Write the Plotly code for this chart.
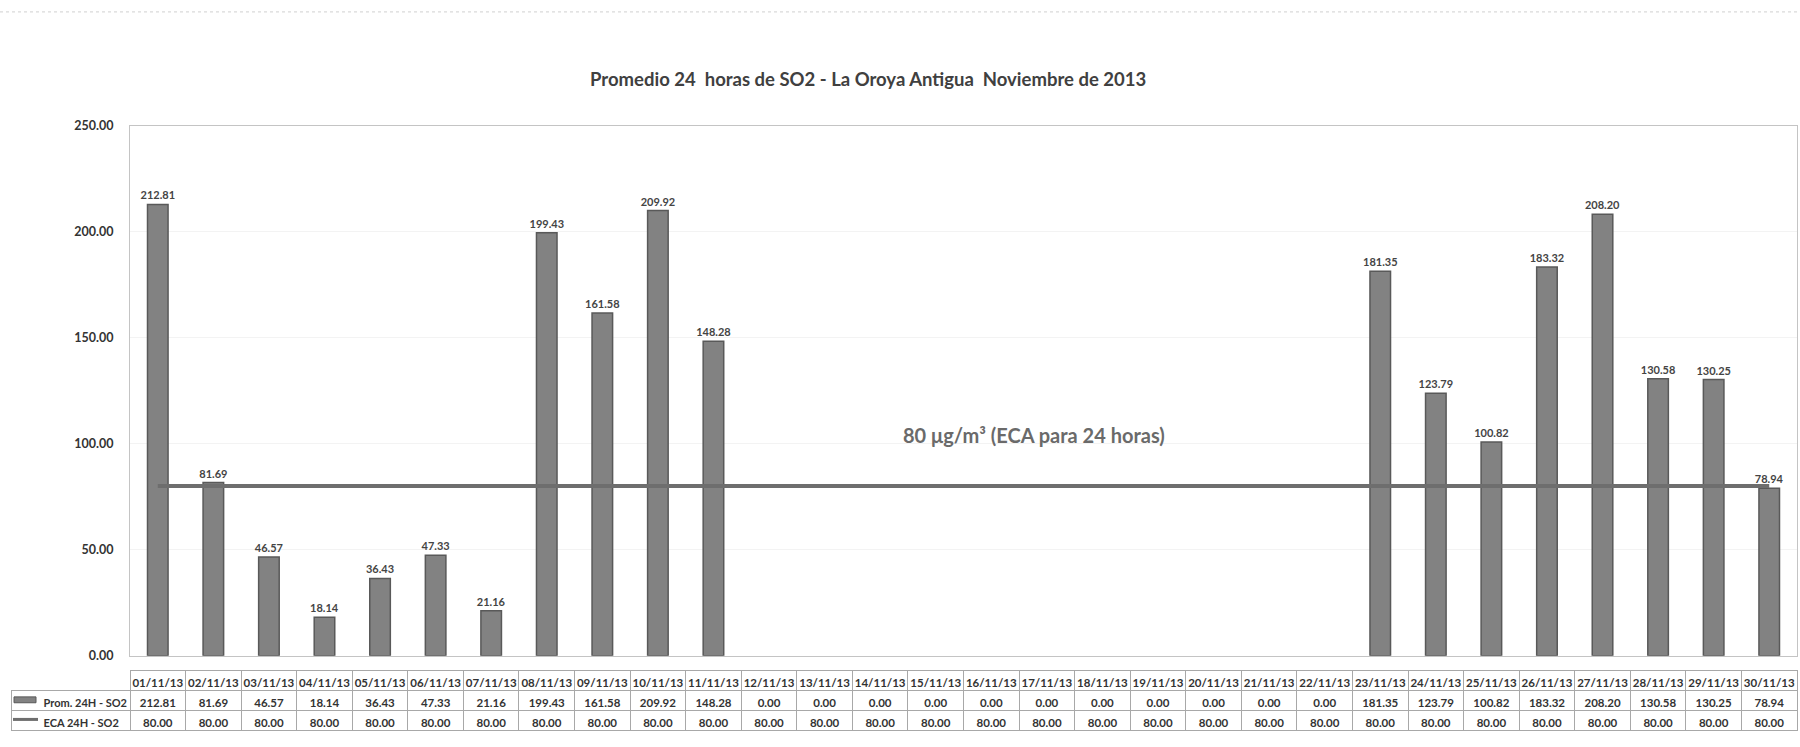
import plotly.graph_objects as go

# ---- data ----
dates = ["01/11/13", "02/11/13", "03/11/13", "04/11/13", "05/11/13", "06/11/13",
         "07/11/13", "08/11/13", "09/11/13", "10/11/13", "11/11/13", "12/11/13",
         "13/11/13", "14/11/13", "15/11/13", "16/11/13", "17/11/13", "18/11/13",
         "19/11/13", "20/11/13", "21/11/13", "22/11/13", "23/11/13", "24/11/13",
         "25/11/13", "26/11/13", "27/11/13", "28/11/13", "29/11/13", "30/11/13"]
prom_so2 = [212.81, 81.69, 46.57, 18.14, 36.43, 47.33, 21.16, 199.43, 161.58, 209.92,
            148.28, 0.00, 0.00, 0.00, 0.00, 0.00, 0.00, 0.00, 0.00, 0.00,
            0.00, 0.00, 181.35, 123.79, 100.82, 183.32, 208.20, 130.58, 130.25, 78.94]
eca_so2 = [80.00, 80.00, 80.00, 80.00, 80.00, 80.00, 80.00, 80.00, 80.00, 80.00,
           80.00, 80.00, 80.00, 80.00, 80.00, 80.00, 80.00, 80.00, 80.00, 80.00,
           80.00, 80.00, 80.00, 80.00, 80.00, 80.00, 80.00, 80.00, 80.00, 80.00]
series_names = ["Prom. 24H - SO2", "ECA 24H - SO2"]
y_ticks = [0, 50, 100, 150, 200, 250]
title_text = "Promedio 24  horas de SO2 - La Oroya Antigua  Noviembre de 2013"
eca_note = "80 μg/m³ (ECA para 24 horas)"

W, H = 1800, 747
FONT = "Lato"
TXT = "#333333"
BAR_COLOR = "#828282"
BAR_EDGE = "#595959"
LINE_COLOR = "#6e6e6e"

def px_x(p):
    return p / W

def px_y(p):
    return (H - p) / H

plot_l, plot_r, plot_t, plot_b = 130, 1797, 120, 661
tab_l, tab_t, row_h = 11, 676, 20

bar_labels = [f"{v:.2f}" if v > 0 else "" for v in prom_so2]
bar_edges = [1.5 if v > 0 else 0 for v in prom_so2]

fig = go.Figure()
fig.add_trace(go.Bar(
    x=dates, y=prom_so2, name=series_names[0],
    text=bar_labels, textposition="outside", cliponaxis=False,
    constraintext="none",
    textfont=dict(family=FONT, size=11, color="#444444", weight="bold"),
    marker=dict(color=BAR_COLOR, line=dict(color=BAR_EDGE, width=bar_edges)),
    width=0.37,
))
fig.add_trace(go.Scatter(
    x=dates, y=eca_so2, name=series_names[1], mode="lines",
    line=dict(color=LINE_COLOR, width=4),
))

# row labels: non-breaking spaces so the table never wraps them; room left for keys
row_labels = ["\u2003\u2003\u00a0\u00a0\u00a0" + s.replace(" ", "\u00a0") for s in series_names]
cell_vals = [row_labels] + [[f"{p:.2f}", f"{e:.2f}"] for p, e in zip(prom_so2, eca_so2)]
header_vals = [""] + dates
ncol = len(dates)
col_w = (plot_r - plot_l) / ncol

fig.add_trace(go.Table(
    domain=dict(x=[px_x(tab_l), px_x(plot_r)], y=[0.0, px_y(tab_t)]),
    columnwidth=[plot_l - tab_l] + [col_w] * ncol,
    header=dict(values=header_vals, height=row_h,
                fill_color="white",
                line=dict(color=["rgba(0,0,0,0)"] + ["#a8a8a8"] * ncol, width=1),
                font=dict(family=FONT, size=11.5, color=TXT, weight="bold"), align="center"),
    cells=dict(values=cell_vals, height=row_h,
               fill_color="white",
               line=dict(color="#a8a8a8", width=1),
               font=dict(family=FONT, size=[11] + [11.5] * ncol, color=TXT, weight="bold"),
               align=["left"] + ["center"] * ncol),
))

# legend keys drawn in the label column of the data table
r2c = tab_t + row_h * 1.5
r3c = tab_t + row_h * 2.5
key_shapes = [
    dict(type="rect", xref="paper", yref="paper",
         x0=px_x(tab_l + 3), x1=px_x(tab_l + 25), y0=px_y(r2c + 3), y1=px_y(r2c - 3),
         fillcolor=BAR_COLOR, line=dict(color=BAR_EDGE, width=1)),
    dict(type="line", xref="paper", yref="paper",
         x0=px_x(tab_l + 2), x1=px_x(tab_l + 27), y0=px_y(r3c), y1=px_y(r3c),
         line=dict(color=LINE_COLOR, width=3)),
]

fig.update_layout(
    width=W, height=H,
    margin=dict(l=0, r=0, t=0, b=0),
    paper_bgcolor="white", plot_bgcolor="white",
    showlegend=False,
    xaxis=dict(domain=[px_x(plot_l), px_x(plot_r)], type="category",
               range=[-0.5, ncol - 0.5], showticklabels=False, ticks="",
               showline=True, linecolor="#c4c4c4", linewidth=1, mirror=True,
               showgrid=False, zeroline=False),
    yaxis=dict(domain=[px_y(plot_b), px_y(plot_t)], range=[0, 250],
               tickvals=y_ticks, tickformat=".2f", ticks="",
               ticklabelstandoff=13,
               tickfont=dict(family=FONT, size=12.5, color="#333333", weight="bold"),
               showline=True, linecolor="#c4c4c4", linewidth=1, mirror=True,
               showgrid=True, gridcolor="#f3f3f3", zeroline=False),
    annotations=[
        dict(text="<b>" + title_text + "</b>", xref="paper", yref="paper",
             x=px_x(868), y=px_y(72), xanchor="center", yanchor="middle",
             showarrow=False,
             font=dict(family=FONT, size=18.5, color="#404040")),
        dict(text="<b>" + eca_note + "</b>", xref="paper", yref="paper",
             x=px_x(1034), y=px_y(436), xanchor="center", yanchor="middle",
             showarrow=False,
             font=dict(family=FONT, size=20, color="#6a6a6a")),
    ],
    shapes=[
        dict(type="line", xref="paper", yref="paper", x0=0, x1=1,
             y0=px_y(4), y1=px_y(4), line=dict(color="#d0d0d0", width=1, dash="dot")),
    ] + key_shapes,
)

fig.write_html("out.html", config={"displayModeBar": False},
               post_script="document.body.style.margin='0';")
